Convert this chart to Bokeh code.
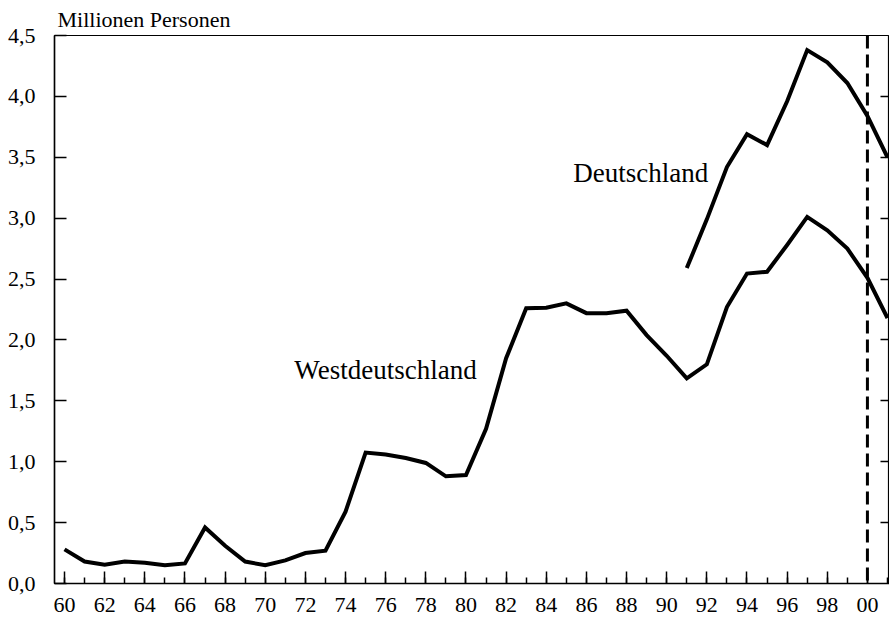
from bokeh.plotting import figure
from bokeh.models import (FixedTicker, CustomJSTickFormatter, LinearAxis, Span,
                          Label, ColumnDataSource)
from bokeh.embed import file_html
from bokeh.resources import INLINE

# ---- data ----
years_west = list(range(1960, 2002))
west = [0.28, 0.18, 0.155, 0.18, 0.17, 0.15, 0.165, 0.46, 0.31, 0.18,
        0.15, 0.19, 0.25, 0.27, 0.59, 1.075, 1.06, 1.03, 0.99, 0.88,
        0.89, 1.27, 1.85, 2.26, 2.265, 2.30, 2.22, 2.22, 2.24, 2.04,
        1.87, 1.685, 1.80, 2.27, 2.545, 2.56, 2.78, 3.01, 2.90, 2.75,
        2.51, 2.18]
years_de = list(range(1991, 2002))
de = [2.59, 2.99, 3.42, 3.69, 3.60, 3.96, 4.38, 4.28, 4.11, 3.84, 3.50]

y_ticks = [0.0, 0.5, 1.0, 1.5, 2.0, 2.5, 3.0, 3.5, 4.0, 4.5]
x_major = list(range(1960, 2001, 2))
x_minor = list(range(1960, 2002))
break_year = 2000
x_start, x_end = 1959.5, 2001.1
y_start, y_end = 0.0, 4.5

label_west = "Westdeutschland"
label_de = "Deutschland"
y_title = "Millionen Personen"

FONT = "Liberation Serif"

p = figure(width=889, height=621, x_range=(x_start, x_end), y_range=(y_start, y_end),
           output_backend="svg", toolbar_location=None,
           min_border_left=54, min_border_bottom=38, min_border_right=0,
           min_border_top=0)
p.xgrid.visible = False
p.ygrid.visible = False
p.outline_line_color = "black"
p.outline_line_width = 1.2
p.background_fill_color = "white"
p.border_fill_color = "white"

p.title.text = y_title
p.title.text_font = FONT
p.title.text_font_size = "22px"
p.title.text_font_style = "normal"
p.title.text_color = "black"
p.title.align = "left"
p.title.offset = 3
p.title.standoff = 8

# x axis
xa = p.xaxis[0]
xa.ticker = FixedTicker(ticks=x_major, minor_ticks=x_minor)
xa.formatter = CustomJSTickFormatter(code="return String(tick % 100).padStart(2, '0');")
xa.major_tick_in = 12
xa.major_tick_out = 0
xa.minor_tick_in = 6
xa.minor_tick_out = 0
xa.axis_line_width = 1.5
xa.major_tick_line_width = 1.5
xa.minor_tick_line_width = 1.5
xa.major_label_text_font = FONT
xa.major_label_text_font_size = "22px"
xa.major_label_text_color = "black"
xa.major_label_standoff = 14

# y axis
ya = p.yaxis[0]
ya.ticker = FixedTicker(ticks=y_ticks)
ya.formatter = CustomJSTickFormatter(code="return tick.toFixed(1).replace('.', ',');")
ya.major_tick_in = 12
ya.major_tick_out = 0
ya.minor_tick_line_color = None
ya.axis_line_width = 1.5
ya.major_tick_line_width = 1.5
ya.major_label_text_font = FONT
ya.major_label_text_font_size = "22px"
ya.major_label_text_color = "black"
ya.major_label_standoff = 19

# right axis: ticks only
ra = LinearAxis(ticker=FixedTicker(ticks=y_ticks[1:-1]),
                formatter=CustomJSTickFormatter(code="return '';"))
ra.major_tick_in = 9
ra.major_tick_out = 0
ra.minor_tick_line_color = None
ra.major_label_standoff = 0
ra.axis_line_width = 1.5
ra.major_tick_line_width = 1.5
p.add_layout(ra, "right")

src_w = ColumnDataSource(dict(x=years_west, y=west))
src_d = ColumnDataSource(dict(x=years_de, y=de))
p.line("x", "y", source=src_w, line_color="black", line_width=4, line_join="miter")
p.line("x", "y", source=src_d, line_color="black", line_width=4, line_join="miter")

p.add_layout(Span(location=break_year, dimension="height", line_color="black",
                  line_width=3, line_dash="13 6"))

p.add_layout(Label(x=1971.45, y=1.757, text=label_west, text_font=FONT,
                   text_font_size="27px", text_color="black",
                   text_baseline="alphabetic"))
p.add_layout(Label(x=1985.35, y=3.37, text=label_de, text_font=FONT,
                   text_font_size="27px", text_color="black",
                   text_baseline="alphabetic"))

open("out.html", "w").write(file_html(p, INLINE))
